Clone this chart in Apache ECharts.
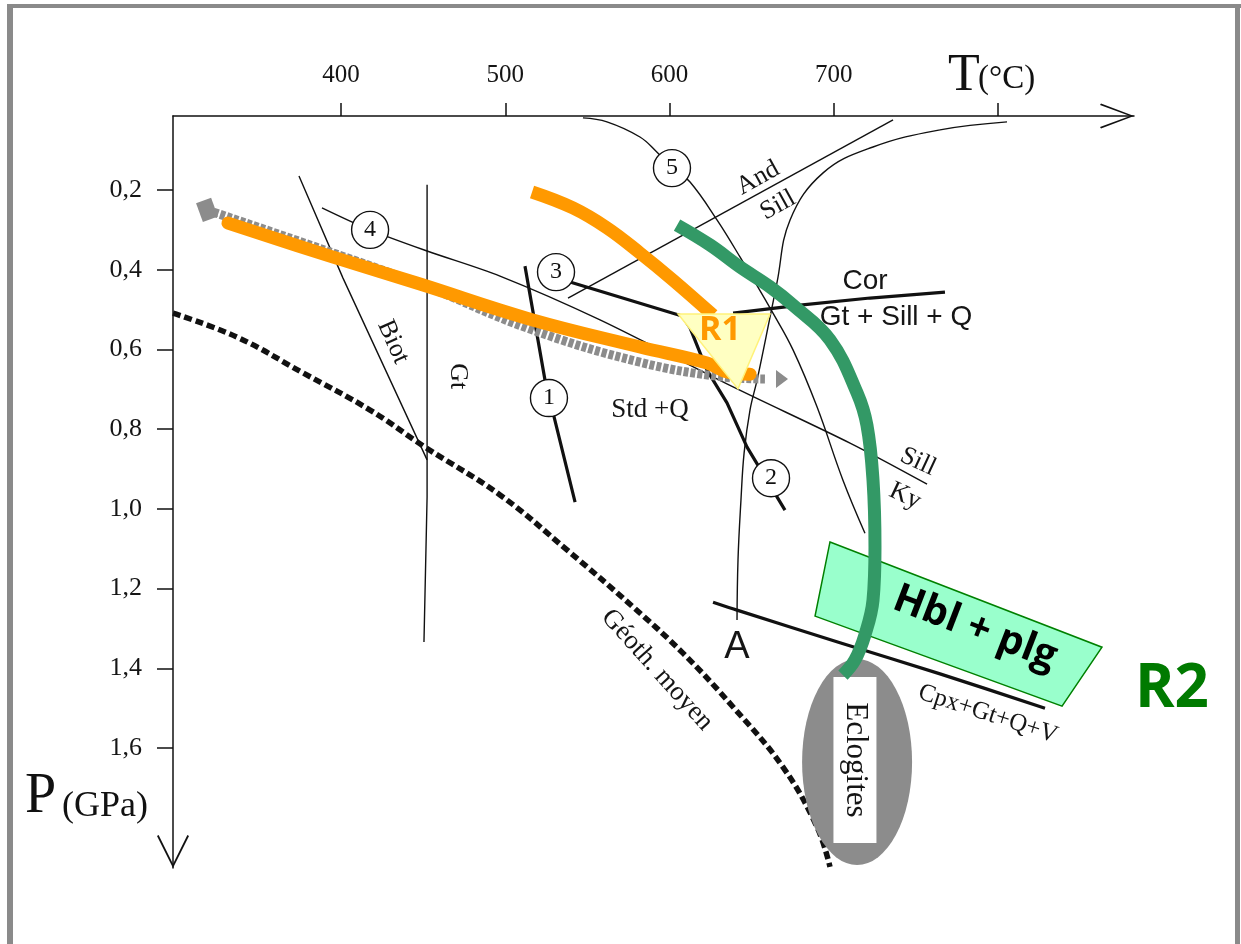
<!DOCTYPE html>
<html><head><meta charset="utf-8">
<script src="https://cdn.jsdelivr.net/npm/echarts@6/dist/echarts.min.js"></script>
<style>html,body{margin:0;padding:0;background:#fff}#c{width:1241px;height:944px}</style>
</head><body><div id="c"></div>
<script>
// ---------- axes ----------
const tTicks = [400, 500, 600, 700, 800];
const tLabels = [400, 500, 600, 700];
const pTicks = [0.2, 0.4, 0.6, 0.8, 1.0, 1.2, 1.4, 1.6];
const tRange = [297.7, 882.8];
const pRange = [0.0143, 1.901];

// ---------- curves (T °C, P GPa) ----------
const geotherm = [[297.7,0.509],[336.7,0.569],[376.9,0.659],[417.7,0.752],[451.1,0.845],[496.8,0.965],[537.6,1.103],[577.8,1.246],[608.2,1.362],[638.7,1.497],[669.1,1.648],[689.8,1.798],[697.7,1.898]];
const biotLine = [[374.4,0.165],[401.2,0.421],[452.4,0.877]];
const gtLine = [[452.4,0.187],[452.4,0.970],[450.5,1.334]];
const sillKyLine = [[388.4,0.245],[416.4,0.298],[452.4,0.353],[496.8,0.416],[557.7,0.526],[638.7,0.694],[709.9,0.835],[756.8,0.938]];
const curve5 = [[547.3,0.019],[561.9,0.029],[582.0,0.067],[592.4,0.105],[602.1,0.145],[612.5,0.180],[628.9,0.275],[642.9,0.368],[663.0,0.509],[675.2,0.601],[689.8,0.744],[705.6,0.928],[719.0,1.061]];
const andSillLine = [[538.2,0.471],[736.1,0.024]];
const curveA = [[805.5,0.029],[764.7,0.049],[723.9,0.092],[693.5,0.157],[673.4,0.275],[665.4,0.433],[661.2,0.519],[653.3,0.677],[649.0,0.752],[645.4,0.860],[643.5,0.978],[641.7,1.128],[641.1,1.279]];
const line1 = [[512.0,0.391],[524.2,0.677],[542.5,0.983]];
const line3to2 = [[539.4,0.431],[607.6,0.516],[612.5,0.546],[622.8,0.652],[635.0,0.734],[647.2,0.845],[670.3,1.003]];
const corLine = [[638.7,0.509],[679.5,0.489],[722.1,0.471],[767.7,0.456]];
const cpxLine = [[626.5,1.234],[641.1,1.254],[703.8,1.336],[764.7,1.414],[828.6,1.500]];
const grayPath = [[318.4,0.250],[381.1,0.338],[448.1,0.436],[515.1,0.549],[582.0,0.632],[632.6,0.669],[658.1,0.674]];
const grayStart = [[318.4,0.250]];
const grayArrow = [[668.5,0.674]];
const orangeLow = [[331.2,0.283],[393.3,0.366],[448.1,0.436],[515.1,0.524],[582.0,0.594],[622.8,0.634],[635.5,0.657],[649.0,0.662]];
const orangeHigh = [[516.3,0.205],[541.2,0.245],[561.9,0.295],[582.0,0.358],[602.1,0.426],[626.5,0.514]];
const r1Zone = [[605.2,0.511],[661.2,0.511],[641.7,0.699]];
const greenPath = [[604.6,0.288],[624.7,0.338],[642.9,0.393],[661.2,0.443],[675.2,0.489],[697.7,0.576],[714.2,0.709],[720.2,0.790],[723.9,0.928],[725.1,1.096],[723.9,1.229],[719.0,1.316],[712.9,1.379],[705.6,1.417]];
const hblZone = [[697.7,1.083],[863.3,1.347],[839.0,1.495],[688.6,1.269]];
const eclogiteZone = [[714.2,1.635]];
const eclogiteTag = [[712.9,1.630]];
const reactionNames = ['1','2','3','4','5'];
const reactionT = [526.6, 661.8, 530.9, 417.7, 601.5];
const reactionP = [0.722, 0.923, 0.406, 0.300, 0.145];

// ---------- annotations ----------
const annotationText = ['And','Sill','Cor','Gt + Sill + Q','Std +Q','Biot','Gt','Sill','Ky','A','Géoth. moyen','Cpx+Gt+Q+V','Eclogites','R1','Hbl + plg','R2'];
const annotationT = [653.9,666.1,719.0,737.9,588.1,431.7,471.2,751.3,743.4,641.1,592.4,793.9,712.9,630.7,786.0,905.9];
const annotationP = [0.170,0.238,0.428,0.519,0.752,0.581,0.667,0.882,0.968,1.347,1.404,1.515,1.630,0.551,1.299,1.454];

// ---------- styles ----------
const serif = '"Liberation Serif", "Times New Roman", serif';
const sans = '"Liberation Sans", Arial, sans-serif';
const round = '"Open Sans", "DejaVu Sans", sans-serif';
const ink = '#111';
const textInk = '#151515';
const annStyle = [
  {f: serif, s: 26, r: 29}, {f: serif, s: 26, r: 29},
  {f: sans, s: 28, r: 0}, {f: sans, s: 28, r: 0},
  {f: serif, s: 27, r: 0},
  {f: serif, s: 26, r: -66}, {f: serif, s: 26, r: -90},
  {f: serif, s: 26, r: -25}, {f: serif, s: 26, r: -25},
  {f: sans, s: 38, r: 0},
  {f: serif, s: 27, r: -48},
  {f: serif, s: 25, r: -18},
  {f: serif, s: 31, r: -90},
  {f: round, s: 34, r: 0, w: 'bold', c: '#ff9900'},
  {f: round, s: 40, r: -21, w: 'bold', c: '#000'},
  {f: round, s: 60, r: 0, w: 'bold', c: '#007a00'}
];

function line(data, width, o) {
  o = o || {};
  return {
    type: 'line', data: data, showSymbol: false, symbol: 'none', silent: true, clip: false,
    smooth: o.smooth || false, z: o.z || 2,
    lineStyle: {color: o.color || ink, width: width, type: o.type || 'solid', cap: o.cap || 'butt', join: 'round', opacity: 1}
  };
}
function polygon(points, style, z) {
  return {
    type: 'custom', silent: true, z: z, clip: false,
    data: [points[0]],
    renderItem: function (params, api) {
      return {type: 'polygon', shape: {points: points.map(function (p) { return api.coord(p); })}, style: style};
    }
  };
}
function blob(data, symbol, size, color, rotate, z) {
  return {type: 'scatter', silent: true, clip: false, z: z || 2, data: data, symbol: symbol,
    symbolSize: size, symbolRotate: rotate || 0, itemStyle: {color: color, opacity: 1}};
}

const tArrow = 'path://M12.5,0 L25,33 L23.6,34 L12.5,4 L1.4,34 L0,33 Z';
const pArrow = 'path://M16,0 L32,32 L30.4,33 L16,4 L1.6,33 L0,32 Z';

const chart = echarts.init(document.getElementById('c'));
chart.setOption({
  animation: false,
  backgroundColor: '#fff',
  grid: {left: 173, top: 116, right: 107, bottom: 76, outerBoundsMode: 'none', containLabel: false},
  xAxis: {
    type: 'value', position: 'top', min: tRange[0], max: tRange[1],
    splitLine: {show: false},
    axisLine: {show: true, lineStyle: {color: ink, width: 1.5}, symbol: ['none', tArrow], symbolSize: [25, 34], symbolOffset: [0, -17]},
    axisTick: {show: true, customValues: tTicks, length: 13, lineStyle: {color: ink, width: 1.5}},
    axisLabel: {show: true, customValues: tLabels, margin: 28, fontFamily: serif, fontSize: 25, color: textInk}
  },
  yAxis: {
    type: 'value', inverse: true, min: pRange[0], max: pRange[1],
    splitLine: {show: false},
    axisLine: {show: true, lineStyle: {color: ink, width: 1.5}, symbol: [pArrow, 'none'], symbolSize: [32, 33], symbolOffset: [16.5, 0]},
    axisTick: {show: true, customValues: pTicks, length: 16, lineStyle: {color: ink, width: 1.5}},
    axisLabel: {show: true, customValues: pTicks, margin: 31, fontFamily: serif, fontSize: 26, color: textInk,
      formatter: function (v) { return v.toFixed(1).replace('.', ','); }}
  },
  graphic: [
    {type: 'rect', silent: true, shape: {x: 7, y: 4, width: 6, height: 940}, style: {fill: '#8a8a8a'}},
    {type: 'rect', silent: true, shape: {x: 7, y: 4, width: 1234, height: 4}, style: {fill: '#8a8a8a'}},
    {type: 'rect', silent: true, shape: {x: 1235, y: 4, width: 5, height: 940}, style: {fill: '#8a8a8a'}},
    {type: 'text', silent: true, x: 948, y: 76, style: {text: 'T', font: '52px "Liberation Serif"', fill: ink, align: 'left', verticalAlign: 'middle'}},
    {type: 'text', silent: true, x: 978, y: 79, style: {text: '(°C)', font: '33px "Liberation Serif"', fill: ink, align: 'left', verticalAlign: 'middle'}},
    {type: 'text', silent: true, x: 25, y: 797, style: {text: 'P', font: '56px "Liberation Serif"', fill: ink, align: 'left', verticalAlign: 'middle'}},
    {type: 'text', silent: true, x: 62, y: 807, style: {text: '(GPa)', font: '36px "Liberation Serif"', fill: ink, align: 'left', verticalAlign: 'middle'}}
  ],
  series: [
    blob(eclogiteZone, 'circle', [110, 206], '#8c8c8c'),
    blob(eclogiteTag, 'rect', [43, 166], '#fff'),
    line(biotLine, 1.4),
    line(gtLine, 1.4),
    line(sillKyLine, 1.4, {smooth: 0.3}),
    line(curve5, 1.4, {smooth: 0.4}),
    line(andSillLine, 1.4),
    line(curveA, 1.4, {smooth: 0.4}),
    line(line1, 3.2),
    line(line3to2, 3.2),
    line(corLine, 3.2),
    line(cpxLine, 3.2, {smooth: 0.3}),
    line(geotherm, 5.5, {type: [8, 4], smooth: 0.4}),
    line(grayPath, 9, {color: '#8c8c8c', type: [5, 2], smooth: 0.4}),
    blob(grayStart, 'rect', [16, 20], '#8c8c8c', 20),
    blob(grayArrow, 'triangle', [18, 12], '#8c8c8c', -90),
    line(orangeLow, 13, {color: '#ff9900', smooth: 0.4, cap: 'round'}),
    line(orangeHigh, 13, {color: '#ff9900', smooth: 0.4}),
    polygon(r1Zone, {fill: '#ffffc2', stroke: '#fff27a', lineWidth: 1.5}, 3),
    polygon(hblZone, {fill: '#99ffcc', stroke: '#008000', lineWidth: 1.5}, 3),
    line(greenPath, 13, {color: '#339966', smooth: 0.4, z: 4}),
    {
      type: 'scatter', silent: true, clip: false, z: 5,
      data: reactionNames.map(function (n, i) { return {name: n, value: [reactionT[i], reactionP[i]]}; }),
      symbol: 'circle', symbolSize: 37,
      itemStyle: {color: '#fff', borderColor: ink, borderWidth: 1.4, opacity: 1},
      label: {show: true, position: 'inside', formatter: '{b}', fontFamily: serif, fontSize: 24, color: ink, opacity: 1}
    },
    {
      type: 'scatter', silent: true, clip: false, z: 6,
      symbol: 'circle', symbolSize: 0,
      itemStyle: {opacity: 1},
      data: annotationText.map(function (t, i) {
        const s = annStyle[i];
        return {
          name: t, value: [annotationT[i], annotationP[i]],
          itemStyle: {opacity: 1},
          label: {show: true, position: 'inside', formatter: t, rotate: s.r, fontFamily: s.f, fontSize: s.s,
            fontWeight: s.w || 'normal', color: s.c || textInk, opacity: 1, textBorderWidth: 0}
        };
      })
    }
  ]
});
</script>
</body></html>
